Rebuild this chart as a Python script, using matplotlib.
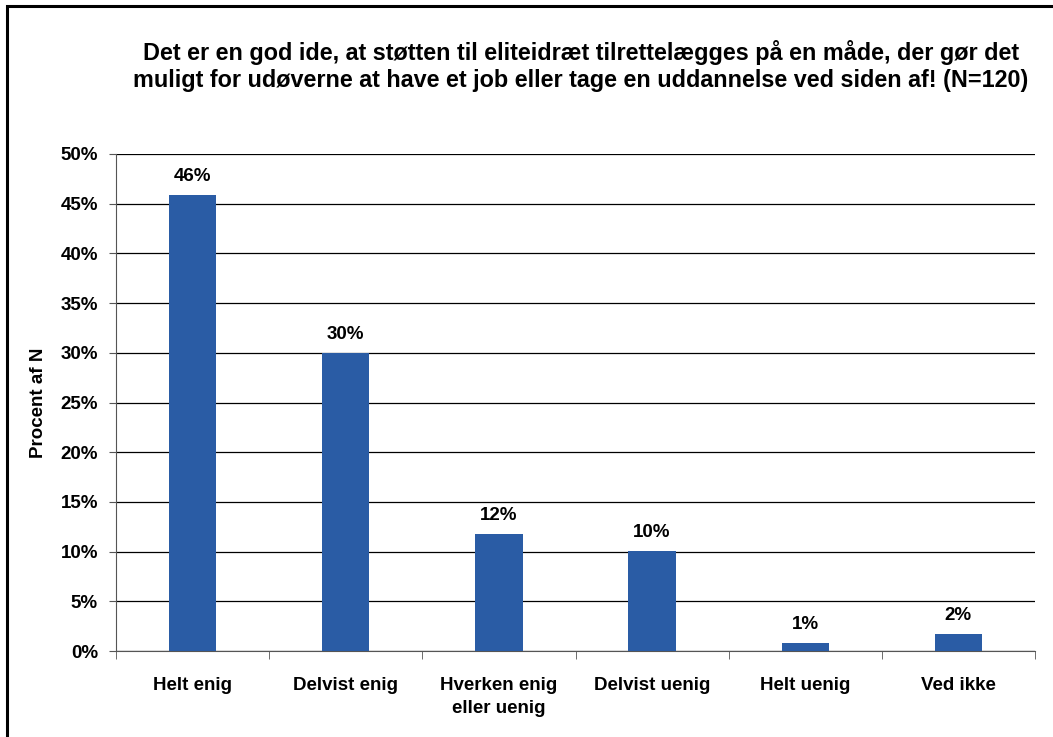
import matplotlib.pyplot as plt
from matplotlib.patches import Rectangle
from matplotlib.ticker import MultipleLocator, FuncFormatter

categories = ["Helt enig", "Delvist enig", "Hverken enig\neller uenig",
              "Delvist uenig", "Helt uenig", "Ved ikke"]
values = [45.9, 30.0, 11.8, 10.1, 0.85, 1.75]
labels = ["46%", "30%", "12%", "10%", "1%", "2%"]

plt.rcParams['font.family'] = ['Liberation Sans', 'DejaVu Sans']
plt.rcParams['font.weight'] = 'bold'

fig = plt.figure(figsize=(10.53, 7.37), dpi=100)
W, H = 1053, 737
ax = fig.add_axes([116 / W, 1 - 651 / H, (1035 - 116) / W, (651 - 154) / H])

# outer frame
fig.patches.append(Rectangle((7 / W, -0.01), 1.01, 1 - 6 / H + 0.01, transform=fig.transFigure,
                             fill=False, edgecolor='black', linewidth=2.2))

x = list(range(len(categories)))
ax.bar(x, values, width=0.31, color='#2A5CA5', zorder=3)
for xi, v, lab in zip(x, values, labels):
    ax.annotate(lab, (xi, v), xytext=(0, 7), textcoords='offset points',
                ha='center', va='bottom', fontsize=13.5, fontweight='bold')

ax.set_xlim(-0.5, len(categories) - 0.5)
ax.set_ylim(0, 50)
ax.yaxis.set_major_locator(MultipleLocator(5))
ax.yaxis.set_major_formatter(FuncFormatter(lambda v, p: f"{v:.0f}%"))
ax.grid(axis='y', color='black', linewidth=0.9, zorder=0)
ax.set_axisbelow(True)

ax.set_xticks(x)
ax.set_xticklabels(categories, fontsize=13.5, fontweight='bold', linespacing=1.45)
ax.tick_params(axis='x', length=0, pad=19)
ax.set_xticks([i - 0.5 for i in range(len(categories) + 1)], minor=True)
ax.tick_params(axis='x', which='minor', length=6, color='#555555')
ax.tick_params(axis='y', labelsize=13.5, length=5, color='#555555', pad=8)

for s in ['top', 'right']:
    ax.spines[s].set_visible(False)
ax.spines['left'].set_color('#555555')
ax.spines['bottom'].set_color('#555555')

ax.set_ylabel("Procent af N", fontsize=13.5, fontweight='bold', labelpad=10)

fig.text(581 / W, 1 - 66 / H,
         "Det er en god ide, at støtten til eliteidræt tilrettelægges på en måde, der gør det\n"
         "muligt for udøverne at have et job eller tage en uddannelse ved siden af! (N=120)",
         ha='center', va='center', fontsize=16.8, fontweight='bold', linespacing=1.25)

fig.savefig("out.png", dpi=100)
